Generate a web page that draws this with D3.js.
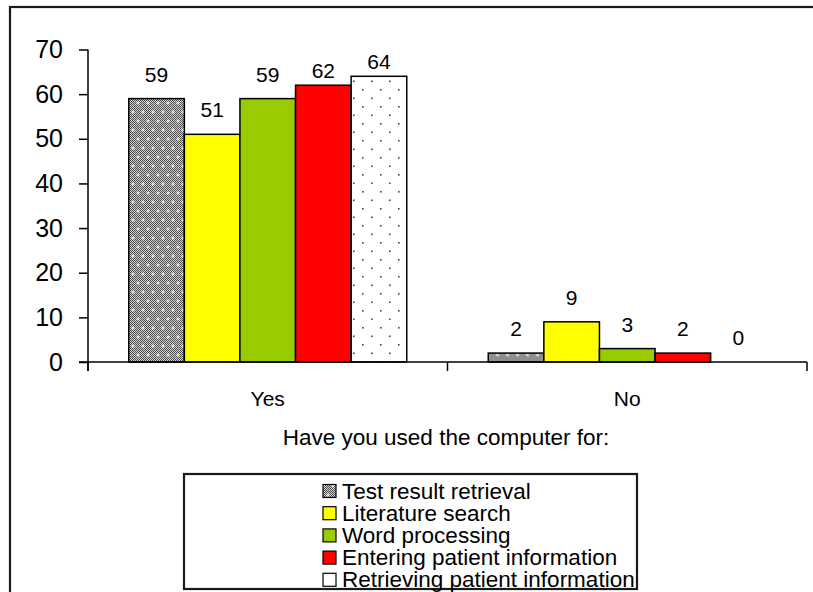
<!DOCTYPE html>
<html>
<head>
<meta charset="utf-8">
<script src="https://cdn.jsdelivr.net/npm/d3@7"></script>
<style>
  html, body { margin: 0; padding: 0; background: #fff; }
  svg { display: block; font-family: "Liberation Sans", Arial, sans-serif; }
</style>
</head>
<body>
<svg id="chart" width="813" height="592"></svg>
<script>
const categories = ["Yes", "No"];
const seriesNames = ["Test result retrieval", "Literature search", "Word processing", "Entering patient information", "Retrieving patient information"];
const yesValues = [59, 51, 59, 62, 64];
const noValues = [2, 9, 3, 2, 0];
const yTicks = [0, 10, 20, 30, 40, 50, 60, 70];
const axisTitle = "Have you used the computer for:";

const valuesByCat = { "Yes": yesValues, "No": noValues };
const fills = ["url(#patTest)", "#FFFF00", "#99CC00", "#FF0000", "url(#patDots)"];

const svg = d3.select("#chart");
const defs = svg.append("defs");

// checker pattern (fine halftone)
const chk = defs.append("pattern").attr("id", "checker").attr("patternUnits", "userSpaceOnUse")
  .attr("width", 2).attr("height", 2);
chk.append("rect").attr("width", 2).attr("height", 2).attr("fill", "#d4d4d4");
chk.append("rect").attr("width", 1).attr("height", 1).attr("fill", "#4a4a4a");
chk.append("rect").attr("x", 1).attr("y", 1).attr("width", 1).attr("height", 1).attr("fill", "#4a4a4a");

const pt = defs.append("pattern").attr("id", "patTest").attr("patternUnits", "userSpaceOnUse")
  .attr("width", 10).attr("height", 18);
pt.append("rect").attr("width", 10).attr("height", 18).attr("fill", "url(#checker)");
[[5, 4], [0, 13], [10, 13]].forEach(([cx, cy]) => {
  pt.append("rect").attr("x", cx - 1.5).attr("y", cy - 0.5).attr("width", 3).attr("height", 1).attr("fill", "#fff");
  pt.append("rect").attr("x", cx - 0.5).attr("y", cy - 1.5).attr("width", 1).attr("height", 3).attr("fill", "#fff");
});

const pd = defs.append("pattern").attr("id", "patDots").attr("patternUnits", "userSpaceOnUse")
  .attr("width", 18).attr("height", 17);
pd.append("rect").attr("width", 18).attr("height", 17).attr("fill", "#fff");
pd.append("rect").attr("x", 4).attr("y", 4).attr("width", 1.6).attr("height", 1.6).attr("fill", "#444");
pd.append("rect").attr("x", 13).attr("y", 12.5).attr("width", 1.6).attr("height", 1.6).attr("fill", "#444");

// outer frame
svg.append("rect").attr("x", 10).attr("y", 7).attr("width", 830).attr("height", 620)
  .attr("fill", "none").attr("stroke", "#1a1a1a").attr("stroke-width", 2.2);

const x0 = d3.scaleBand().domain(categories).range([88, 807]).paddingInner(0).paddingOuter(0);
const x1 = d3.scaleBand().domain(seriesNames).range([0, x0.bandwidth()]).paddingInner(0).paddingOuter(0.733);
const y = d3.scaleLinear().domain([0, 70]).range([362, 49.5]);

// bars
const groups = svg.append("g").selectAll("g").data(categories).join("g")
  .attr("transform", d => `translate(${x0(d)},0)`);

groups.selectAll("rect").data(c => seriesNames.map((s, i) => ({ s, i, v: valuesByCat[c][i] })))
  .join("rect")
  .filter(d => d.v > 0)
  .attr("x", d => x1(d.s))
  .attr("y", d => y(d.v))
  .attr("width", x1.bandwidth())
  .attr("height", d => y(0) - y(d.v))
  .attr("fill", d => fills[d.i])
  .attr("stroke", "#000").attr("stroke-width", 1.5);

// value labels
groups.selectAll("text").data(c => seriesNames.map((s, i) => ({ s, i, v: valuesByCat[c][i] })))
  .join("text")
  .attr("x", d => x1(d.s) + x1.bandwidth() / 2)
  .attr("y", d => {
    const top = y(d.v);
    let base = top - 17;
    if (base - 15 < 62) base = top - 7.5;
    return base;
  })
  .attr("text-anchor", "middle")
  .attr("font-size", 21)
  .attr("fill", "#000")
  .text(d => d.v);

// y axis
const yAxis = d3.axisLeft(y).tickValues(yTicks).tickSize(9).tickPadding(16);
const gy = svg.append("g").attr("transform", "translate(88,0)").call(yAxis);
gy.select(".domain").remove();
gy.selectAll(".tick line").attr("stroke", "#000").attr("stroke-width", 1.5);
gy.selectAll(".tick text").attr("font-size", 25).attr("font-family", "Liberation Sans, Arial, sans-serif").attr("fill", "#000");
svg.append("line").attr("x1", 88).attr("x2", 88).attr("y1", y(70)).attr("y2", 371)
  .attr("stroke", "#000").attr("stroke-width", 1.5);

// x axis
svg.append("line").attr("x1", 79).attr("x2", 807).attr("y1", y(0)).attr("y2", y(0))
  .attr("stroke", "#000").attr("stroke-width", 1.5);
const boundaries = [x0.range()[0]].concat(categories.map(c => x0(c) + x0.bandwidth()));
svg.append("g").selectAll("line").data(boundaries).join("line")
  .attr("x1", d => d).attr("x2", d => d).attr("y1", y(0)).attr("y2", 371)
  .attr("stroke", "#000").attr("stroke-width", 1.5);

svg.append("g").selectAll("text").data(categories).join("text")
  .attr("x", d => x0(d) + x0.bandwidth() / 2)
  .attr("y", 406)
  .attr("text-anchor", "middle")
  .attr("font-size", 21)
  .text(d => d);

svg.append("text").attr("x", 446).attr("y", 445).attr("text-anchor", "middle")
  .attr("font-size", 22.5).text(axisTitle);

// legend
svg.append("rect").attr("x", 184).attr("y", 474).attr("width", 453).attr("height", 115)
  .attr("fill", "#fff").attr("stroke", "#1a1a1a").attr("stroke-width", 2.2);
const legendFills = ["url(#patTest)", "#FFFF00", "#99CC00", "#FF0000", "#fff"];
const lg = svg.append("g").selectAll("g").data(seriesNames).join("g")
  .attr("transform", (d, i) => `translate(323,${491 + i * 22.2})`);
lg.append("rect").attr("x", 0).attr("y", -6.5).attr("width", 13).attr("height", 13)
  .attr("fill", (d, i) => legendFills[i]).attr("stroke", "#000").attr("stroke-width", 1.2);
lg.append("text").attr("x", 19).attr("y", 7.5).attr("font-size", 22.5).text(d => d);
</script>
</body>
</html>
